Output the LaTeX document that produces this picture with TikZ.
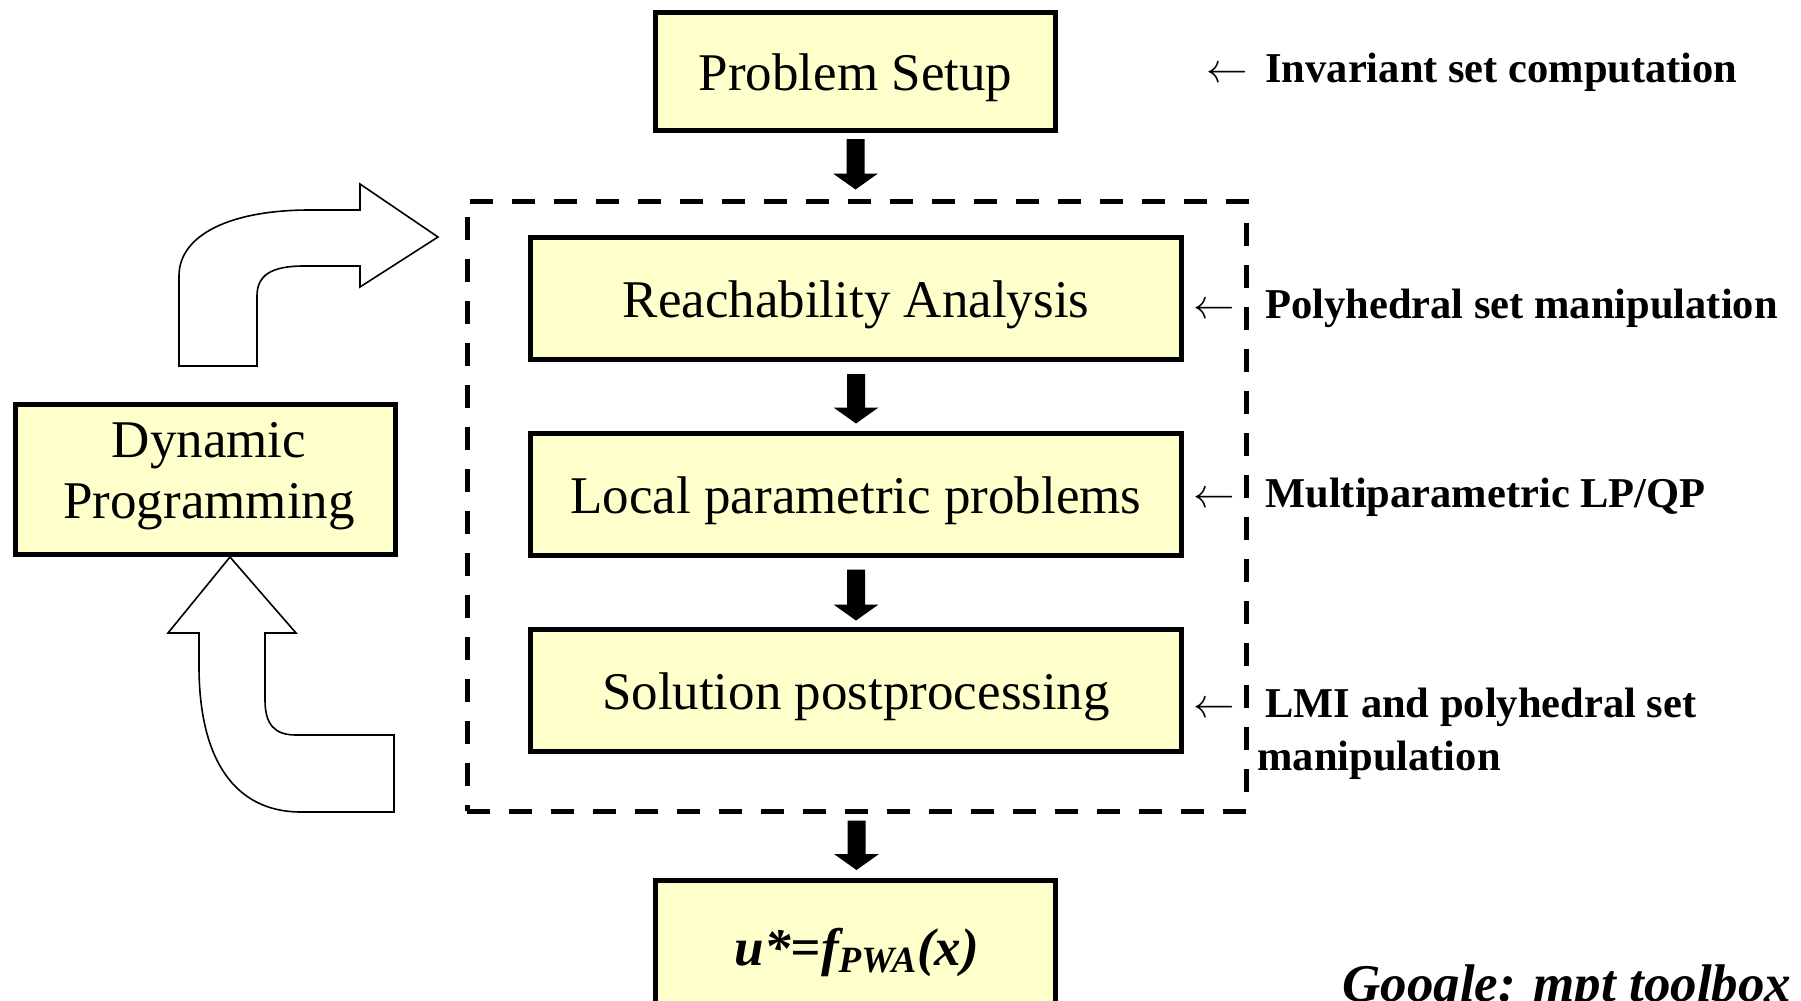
\documentclass[tikz,border=0pt]{standalone}
\usepackage{fontspec}
\setmainfont{Liberation Serif}
\usetikzlibrary{calc}
\definecolor{boxfill}{HTML}{FFFFCC}
\newcommand\blockarrow[2]{%
  \fill let \p1=#1, \p2=#2 in
    (\x1-4.5pt,\y1) -- (\x1-4.5pt,\y2+8pt) -- (\x1-11.25pt,\y2+8pt) -- (\x1,\y2)
    -- (\x1+11.25pt,\y2+8pt) -- (\x1+4.5pt,\y2+8pt) -- (\x1+4.5pt,\y1) -- cycle;}
\tikzset{
  box/.style={draw=black, line width=2.5pt, fill=boxfill, inner sep=0pt,
    text height=21.6pt, text depth=2.2pt,
    font=\fontsize{26.5}{30.5}\selectfont},
  plainbox/.style={draw=black, line width=2.5pt, fill=boxfill, inner sep=0pt},
  frame/.style={draw=black, line width=2.5pt, dash pattern=on 11.5pt off 9.5pt, inner sep=0pt},
  lbl/.style={anchor=base west, inner sep=0pt, font=\fontsize{21.25}{25}\selectfont\bfseries},
  larr/.style={anchor=base west, inner sep=0pt, font=\fontsize{20.5}{24}\selectfont},
  bent/.style={draw=black, line width=0.8pt, fill=white, line join=miter},
}
\begin{document}
\begin{tikzpicture}[x=0.5pt, y=-0.5pt]
\useasboundingbox (0,0) rectangle (1801,1001);
\clip (0,0) rectangle (1801,1001);
\fill[white] (0,0) rectangle (1801,1001);

% main boxes
\node[box, minimum width=200pt, minimum height=59pt] (ps) at (855.5,71.5) {Problem Setup};
\node[frame, minimum width=389.5pt, minimum height=305pt] (fr) at (856.5,506) {};
\node[box, minimum width=325.5pt, minimum height=61pt] (ra) at (856,298.5) {Reachability Analysis};
\node[box, minimum width=325.5pt, minimum height=61pt] (lp) at (856,494) {Local parametric problems};
\node[box, minimum width=325.5pt, minimum height=61pt] (sp) at (856,690) {Solution postprocessing};
\node[plainbox, minimum width=200pt, minimum height=64.5pt] (us) at (855.5,945) {};
\node[anchor=base, inner sep=0pt, font=\fontsize{26.5}{30.5}\selectfont\bfseries\itshape] (ut) at (857,965)
  {u*=f\textsubscript{PWA}(x)};
\node[plainbox, minimum width=190pt, minimum height=75pt] (dp) at (205.5,479.5) {};
\node[anchor=base, inner sep=0pt, font=\fontsize{26.5}{30.5}\selectfont] (dpt) at (209,457)
  {\begin{tabular}[t]{@{}c@{}}Dynamic\\Programming\end{tabular}};

% block arrows
\blockarrow{($(ps.south)+(0,-3pt)$)}{($(fr.north)+(0,4.5pt)$)}
\blockarrow{($(ra.south)+(0,-6pt)$)}{($(lp.north)+(0,3.5pt)$)}
\blockarrow{($(lp.south)+(0,-6pt)$)}{($(sp.north)+(0,3pt)$)}
\blockarrow{($(fr.south)+(0,-3.5pt)$)}{($(us.north)+(0,4pt)$)}

% bent outline arrows
\path[bent] (179,366) -- (179,276) .. controls (179,235) and (230,210) .. (310,210)
  -- (360,210) -- (360,184) -- (438,237) -- (360,287) -- (360,266) -- (304,266)
  .. controls (270,266) and (257,276) .. (257,296) -- (257,366) -- cycle;
\path[bent] (230,557) -- (296,633) -- (265,633) -- (265,700)
  .. controls (265,725) and (275,735) .. (296,735) -- (394,735) -- (394,812)
  -- (301,812) .. controls (235,812) and (199,760) .. (199,666) -- (199,633)
  -- (168,633) -- cycle;

% right labels
\node[larr] (a1) at (1206,83) {$\leftarrow$};
\node[lbl] (t1) at (1265,83) {Invariant set computation};
\node[larr] (a2) at (1193,318) {$\leftarrow$};
\node[lbl] (t2) at (1265,318) {Polyhedral set manipulation};
\node[larr] (a3) at (1193,507) {$\leftarrow$};
\node[lbl] (t3) at (1265,507) {Multiparametric LP/QP};
\node[larr] (a4) at (1193,717) {$\leftarrow$};
\node[lbl] (t4) at (1265,717) {LMI and polyhedral set};
\node[lbl] (t5) at (1257,770) {manipulation};

\node[anchor=base west, inner sep=0pt, font=\fontsize{26.5}{30.5}\selectfont\bfseries\itshape] (gg) at (1342,1001)
  {Google: mpt toolbox};
\end{tikzpicture}
\end{document}
